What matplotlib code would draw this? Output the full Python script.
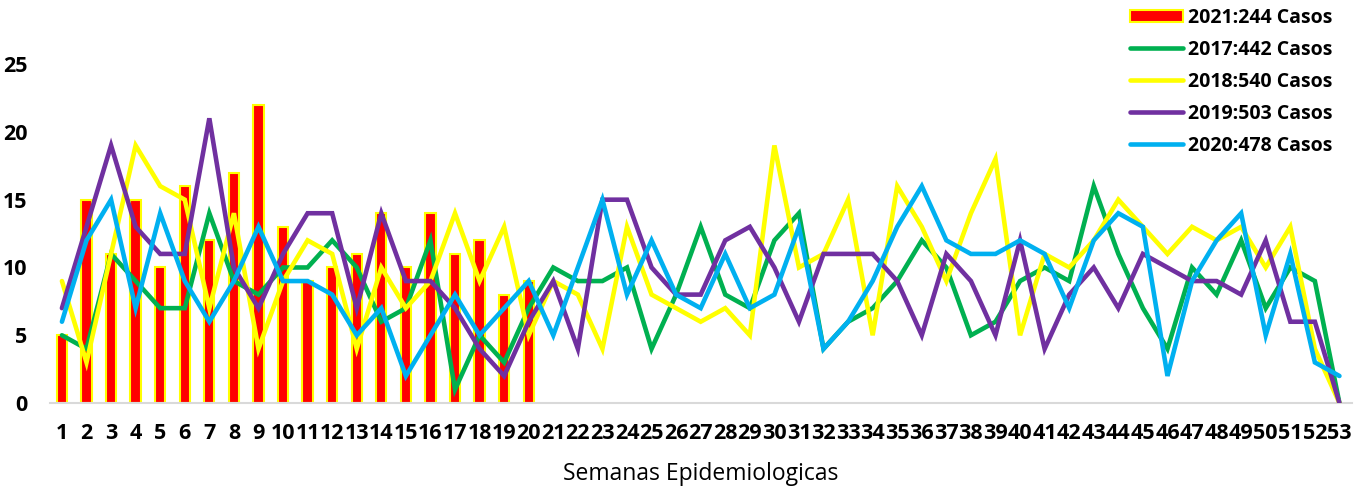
import numpy as np
import matplotlib
matplotlib.use("Agg")
import matplotlib.pyplot as plt

plt.rcParams['font.family'] = ['Open Sans', 'DejaVu Sans']

semanas = list(range(1, 54))

# casos por semana epidemiologica
casos_2021 = [5, 15, 11, 15, 10, 16, 12, 17, 22, 13,
              9, 10, 11, 14, 10, 14, 11, 12, 8, 9]
casos_2017 = [5, 4, 11, 9, 7, 7, 14, 9, 8, 10,
              10, 12, 10, 6, 7, 12, 1, 5, 3, 7,
              10, 9, 9, 10, 4, 8, 13, 8, 7, 12,
              14, 4, 6, 7, 9, 12, 10, 5, 6, 9,
              10, 9, 16, 11, 7, 4, 10, 8, 12, 7,
              10, 9, 0]
casos_2018 = [9, 3, 11, 19, 16, 15, 7, 14, 4, 9,
              12, 11, 4, 10, 7, 9, 14, 9, 13, 5,
              9, 8, 4, 13, 8, 7, 6, 7, 5, 19,
              10, 11, 15, 5, 16, 13, 9, 14, 18, 5,
              11, 10, 12, 15, 13, 11, 13, 12, 13, 10,
              13, 4, 0]
casos_2019 = [7, 13, 19, 13, 11, 11, 21, 10, 7, 11,
              14, 14, 7, 14, 9, 9, 7, 4, 2, 6,
              9, 4, 15, 15, 10, 8, 8, 12, 13, 10,
              6, 11, 11, 11, 9, 5, 11, 9, 5, 12,
              4, 8, 10, 7, 11, 10, 9, 9, 8, 12,
              6, 6, 0]
casos_2020 = [6, 12, 15, 7, 14, 9, 6, 9, 13, 9,
              9, 8, 5, 7, 2, 5, 8, 5, 7, 9,
              5, 10, 15, 8, 12, 8, 7, 11, 7, 8,
              13, 4, 6, 9, 13, 16, 12, 11, 11, 12,
              11, 7, 12, 14, 13, 2, 9, 12, 14, 5,
              11, 3, 2]

lineas = [
    (casos_2017, '#00B050', '2017:442 Casos'),
    (casos_2018, '#FFFF00', '2018:540 Casos'),
    (casos_2019, '#7030A0', '2019:503 Casos'),
    (casos_2020, '#00B0F0', '2020:478 Casos'),
]

fig = plt.figure(figsize=(13.64, 4.88), dpi=100)
ax = fig.add_axes([0.0364, 0.174, 0.9546, 0.6947])

handles = []
barras = ax.bar(semanas[:len(casos_2021)], casos_2021, width=0.42, color='#FF0000',
                edgecolor='#FFFF00', linewidth=1.5, label='2021:244 Casos', zorder=2)
handles.append(barras)
for datos, color, etiqueta in lineas:
    linea, = ax.plot(semanas, datos, color=color, linewidth=3.3, label=etiqueta,
                     solid_joinstyle='miter', solid_capstyle='round', zorder=3)
    handles.append(linea)

ax.set_xlim(0.5, 53.5)
ax.set_ylim(0, 25)
ax.set_xticks(semanas)
ax.set_xticklabels([str(s) for s in semanas], fontsize=15.5, fontweight='bold')
ax.set_yticks([0, 5, 10, 15, 20, 25])
ax.set_yticklabels(['0', '5', '10', '15', '20', '25'], fontsize=15.5, fontweight='bold')
ax.tick_params(axis='both', length=0)
ax.tick_params(axis='x', pad=14)
ax.tick_params(axis='y', pad=16)
for lado in ['top', 'right', 'left']:
    ax.spines[lado].set_visible(False)
ax.spines['bottom'].set_color('#D9D9D9')
ax.spines['bottom'].set_linewidth(1.5)

ax.set_xlabel('Semanas Epidemiologicas', fontsize=16.5, labelpad=13)

leg = fig.legend(handles=handles, labels=[h.get_label() for h in handles],
                 loc='upper right', bbox_to_anchor=(0.99, 1.02), frameon=False,
                 prop={'weight': 'bold', 'size': 14}, labelspacing=0.62,
                 handlelength=2.7, handletextpad=0.3, handleheight=0.6)

fig.savefig('out.png', dpi=100)
